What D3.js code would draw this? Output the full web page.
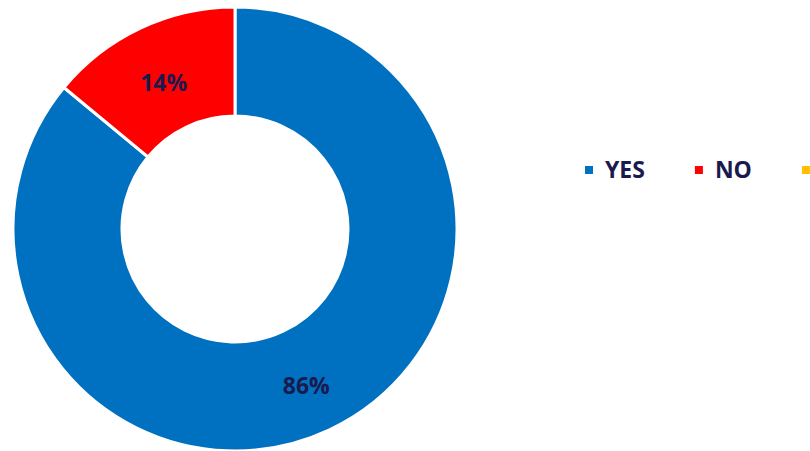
<!DOCTYPE html>
<html>
<head>
<meta charset="utf-8">
<script src="https://cdn.jsdelivr.net/npm/d3@7"></script>
<style>
  html, body { margin: 0; padding: 0; background: #fff; overflow: hidden; }
  svg text { font-family: "Open Sans", Lato, sans-serif; font-weight: 700; fill: #1a1a4e; }
</style>
</head>
<body>
<svg id="chart" width="810" height="451"></svg>
<script>
const categories = ["YES", "NO", "N/A"];
const values = [86, 14, 0];
const colors = ["#0070C0", "#FF0000", "#FFC000"];

const width = 810, height = 451;
const cx = 235, cy = 229;
const outerR = 222, innerR = 113;

const svg = d3.select("#chart");
const color = d3.scaleOrdinal().domain(categories).range(colors);

const data = categories.map((c, i) => ({ cat: c, value: values[i] }));
const pie = d3.pie().value(d => d.value).sort(null);
const arc = d3.arc().innerRadius(innerR).outerRadius(outerR);

const g = svg.append("g").attr("transform", `translate(${cx},${cy})`);

const arcs = pie(data).filter(d => d.data.value > 0);

g.selectAll("path")
    .data(arcs)
    .enter()
    .append("path")
    .attr("d", arc)
    .attr("fill", d => color(d.data.cat))
    .attr("stroke", "#fff")
    .attr("stroke-width", 3);

// percent labels, a bit below the centroid like the original
g.selectAll("text.lbl")
    .data(arcs)
    .enter()
    .append("text")
    .attr("class", "lbl")
    .attr("transform", d => {
        const c = arc.centroid(d);
        return `translate(${c[0]},${c[1] + 5})`;
    })
    .attr("text-anchor", "middle")
    .attr("dy", "0.35em")
    .style("font-size", "23px")
    .text(d => d.data.value + "%");

// legend; the last item runs off the right edge, only its marker shows
const legend = svg.append("g").attr("transform", "translate(585,170)");
let lx = 0;
categories.forEach(function (c) {
    const item = legend.append("g").attr("transform", `translate(${lx},0)`);
    item.append("rect")
        .attr("x", 0).attr("y", -4)
        .attr("width", 8).attr("height", 8)
        .attr("fill", color(c));
    if (585 + lx + 20 < width) {
        const t = item.append("text")
            .attr("x", 20)
            .attr("dy", "0.36em")
            .style("font-size", "23px")
            .text(c);
        lx += 20 + t.node().getComputedTextLength() + 50;
    }
});
</script>
</body>
</html>
